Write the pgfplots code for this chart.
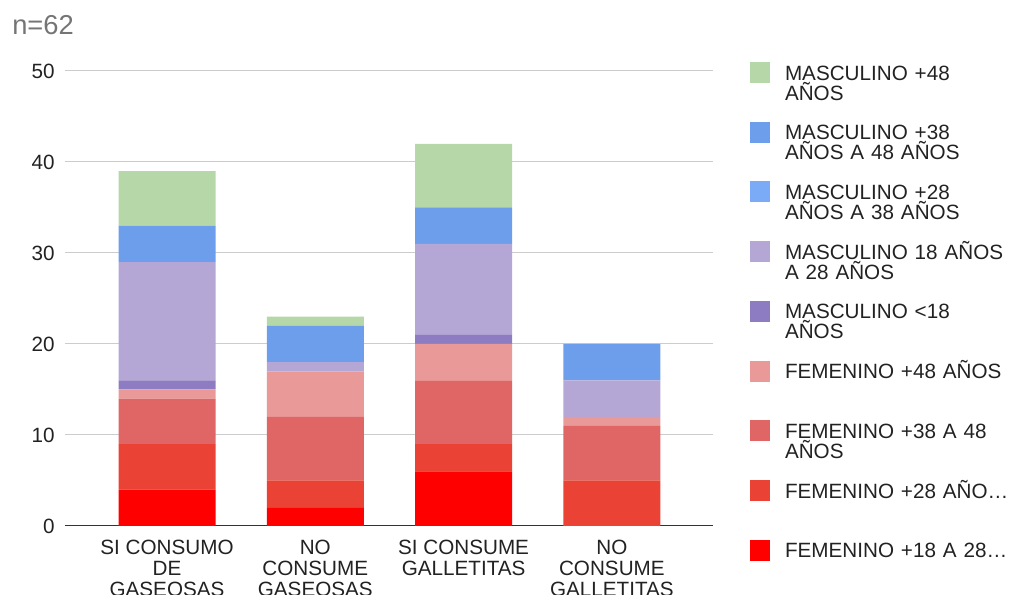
\documentclass[border=0pt]{standalone}
\usepackage{pgfplots}
\pgfplotsset{compat=1.18}
\usepackage{fontspec}
\setmainfont{Liberation Sans}
\definecolor{cMa}{HTML}{B6D7A8}
\definecolor{cMb}{HTML}{6D9EEB}
\definecolor{cMc}{HTML}{7BAAF7}
\definecolor{cMd}{HTML}{B4A7D6}
\definecolor{cMe}{HTML}{8E7CC3}
\definecolor{cFa}{HTML}{EA9999}
\definecolor{cFb}{HTML}{E06666}
\definecolor{cFc}{HTML}{EA4335}
\definecolor{cFd}{HTML}{FF0000}
\definecolor{txt}{HTML}{222222}
\newcommand\ticfont{\fontsize{15.5}{15}\selectfont}
\newcommand\xticfont{\fontsize{15.5}{15.75}\selectfont}
\pgfplotsset{sq legend/.style={legend image code/.code={\fill[##1] (0pt,6.65pt) rectangle (15pt,22.4pt);}}}
\begin{document}
\begin{tikzpicture}
\path[use as bounding box] (-48.75pt,-51.75pt) rectangle (708.75pt,394.5pt);
\begin{axis}[
  scale only axis, width=486pt, height=341.25pt,
  ybar stacked, bar width=72.75pt,
  xmin=-0.688, xmax=3.682, ymin=0, ymax=50,
  xtick={0,1,2,3},
  xticklabels={{SI CONSUMO\\DE\\GASEOSAS},{NO\\CONSUME\\GASEOSAS},{SI CONSUME\\GALLETITAS},{NO\\CONSUME\\GALLETITAS}},
  ytick={0,10,20,30,40,50},
  ymajorgrids, grid style={color=black!20, line width=0.75pt},
  axis line style={draw=none},
  major tick length=0pt,
  /pgf/number format/assume math mode=true,
  yticklabel style={font=\ticfont, text=txt, anchor=east, inner sep=0pt, xshift=-7.5pt},
  xticklabel style={font=\xticfont, text=txt, anchor=north, inner sep=0pt, yshift=-10.5pt, align=center},
  reverse legend, legend cell align=left,
  legend style={draw=none, fill=none, inner sep=0pt, outer sep=0pt, at={(1,1)}, anchor=north west,
    xshift=27.75pt, yshift=6.75pt, column sep=11.25pt, row sep=0pt,
    nodes={inner sep=0pt, text width=190pt, align=left, text height=13.5pt, text depth=31.3pt, font=\ticfont, text=txt}},
]
\addplot[fill=cFd, draw=none, sq legend] coordinates {(0,4) (1,2) (2,6) (3,0)};
\addplot[fill=cFc, draw=none, sq legend] coordinates {(0,5) (1,3) (2,3) (3,5)};
\addplot[fill=cFb, draw=none, sq legend] coordinates {(0,5) (1,7) (2,7) (3,6)};
\addplot[fill=cFa, draw=none, sq legend] coordinates {(0,1) (1,5) (2,4) (3,1)};
\addplot[fill=cMe, draw=none, sq legend] coordinates {(0,1) (1,0) (2,1) (3,0)};
\addplot[fill=cMd, draw=none, sq legend] coordinates {(0,13) (1,1) (2,10) (3,4)};
\addplot[fill=cMc, draw=none, sq legend] coordinates {(0,0) (1,0) (2,0) (3,0)};
\addplot[fill=cMb, draw=none, sq legend] coordinates {(0,4) (1,4) (2,4) (3,4)};
\addplot[fill=cMa, draw=none, sq legend] coordinates {(0,6) (1,1) (2,7) (3,0)};
\legend{FEMENINO +18 A 28…, FEMENINO +28 AÑO…, FEMENINO +38 A 48\\AÑOS, FEMENINO +48 AÑOS, MASCULINO <18\\AÑOS, MASCULINO 18 AÑOS\\A 28 AÑOS, MASCULINO +28\\AÑOS A 38 AÑOS, MASCULINO +38\\AÑOS A 48 AÑOS, MASCULINO +48\\AÑOS}
\draw[color=black!80, line width=1.1pt] (rel axis cs:0,0) -- (rel axis cs:1,0);
\end{axis}
\node[anchor=base west, inner sep=0pt, text=black!54, font=\fontsize{20.5}{24}\selectfont] at (-39.75pt,368.25pt) {n=62};
\end{tikzpicture}
\end{document}
